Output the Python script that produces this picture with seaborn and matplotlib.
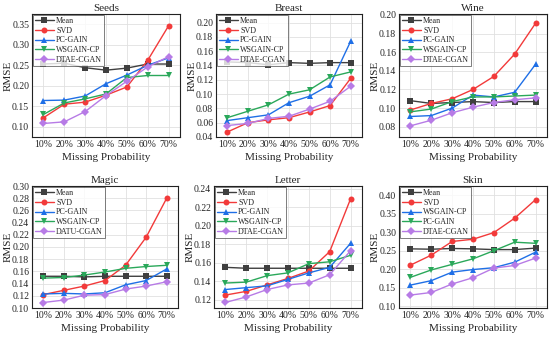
import numpy as np
import pandas as pd
import matplotlib
matplotlib.use("Agg")
import matplotlib.pyplot as plt
import seaborn as sns

sns.set_style("white")
plt.rcParams['font.family'] = ['Liberation Serif', 'DejaVu Serif']

x_labels = ["10%", "20%", "30%", "40%", "50%", "60%", "70%"]

seeds = {
    "Mean": [0.253, 0.255, 0.244, 0.238, 0.243, 0.253, 0.253],
    "SVD": [0.122, 0.155, 0.160, 0.177, 0.197, 0.262, 0.346],
    "PC-GAIN": [0.164, 0.165, 0.175, 0.205, 0.226, 0.250, 0.268],
    "WSGAIN-CP": [0.130, 0.158, 0.168, 0.180, 0.220, 0.225, 0.225],
    "DTAE-CGAN": [0.108, 0.112, 0.137, 0.176, 0.211, 0.246, 0.271],
}
breast = {
    "Mean": [0.145, 0.144, 0.141, 0.144, 0.143, 0.144, 0.144],
    "SVD": [0.047, 0.060, 0.064, 0.067, 0.075, 0.084, 0.122],
    "PC-GAIN": [0.063, 0.067, 0.071, 0.088, 0.097, 0.113, 0.174],
    "WSGAIN-CP": [0.067, 0.076, 0.085, 0.100, 0.106, 0.124, 0.131],
    "DTAE-CGAN": [0.056, 0.059, 0.066, 0.069, 0.079, 0.090, 0.111],
}
wine = {
    "Mean": [0.108, 0.105, 0.106, 0.107, 0.106, 0.107, 0.107],
    "SVD": [0.098, 0.105, 0.110, 0.120, 0.134, 0.158, 0.191],
    "PC-GAIN": [0.091, 0.092, 0.100, 0.114, 0.112, 0.117, 0.147],
    "WSGAIN-CP": [0.096, 0.099, 0.107, 0.112, 0.112, 0.113, 0.114],
    "DTAE-CGAN": [0.081, 0.087, 0.095, 0.101, 0.106, 0.109, 0.111],
}
magic = {
    "Mean": [0.152, 0.152, 0.151, 0.152, 0.152, 0.152, 0.152],
    "SVD": [0.122, 0.129, 0.136, 0.145, 0.170, 0.216, 0.280],
    "PC-GAIN": [0.123, 0.124, 0.123, 0.125, 0.138, 0.145, 0.164],
    "WSGAIN-CP": [0.149, 0.150, 0.154, 0.159, 0.165, 0.168, 0.170],
    "DATU-CGAN": [0.109, 0.113, 0.121, 0.122, 0.131, 0.136, 0.143],
}
letter = {
    "Mean": [0.155, 0.154, 0.154, 0.154, 0.154, 0.154, 0.154],
    "SVD": [0.125, 0.129, 0.136, 0.143, 0.151, 0.172, 0.229],
    "PC-GAIN": [0.131, 0.133, 0.135, 0.142, 0.149, 0.155, 0.181],
    "WSGAIN-CP": [0.138, 0.139, 0.146, 0.149, 0.159, 0.161, 0.168],
    "DTAE-CGAN": [0.117, 0.123, 0.131, 0.136, 0.138, 0.147, 0.173],
}
skin = {
    "Mean": [0.255, 0.254, 0.256, 0.255, 0.253, 0.253, 0.257],
    "SVD": [0.211, 0.238, 0.275, 0.281, 0.299, 0.338, 0.388],
    "WSGAIN-CP": [0.157, 0.169, 0.192, 0.199, 0.204, 0.219, 0.246],
    "PC-GAIN": [0.178, 0.198, 0.213, 0.228, 0.250, 0.273, 0.270],
    "DTAE-CGAN": [0.130, 0.137, 0.160, 0.177, 0.203, 0.210, 0.230],
}

# style per legend slot (position in legend)
slot_colors = ["#3f3f3f", "#f23a3a", "#1f6fe6", "#2aa85a", "#b77be6"]
slot_markers = ["s", "o", "^", "v", "D"]

panels = [
    ("Seeds", seeds, (0.075, 0.375), [0.10, 0.15, 0.20, 0.25, 0.30, 0.35], "{:.2f}"),
    ("Breast", breast, (0.04, 0.212), [0.04, 0.06, 0.08, 0.10, 0.12, 0.14, 0.16, 0.18, 0.20], "{:.2f}"),
    ("Wine", wine, (0.069, 0.201), [0.08, 0.10, 0.12, 0.14, 0.16, 0.18, 0.20], "{:.2f}"),
    ("Magic", magic, (0.10, 0.30), [0.10, 0.12, 0.14, 0.16, 0.18, 0.20, 0.22, 0.24, 0.26, 0.28, 0.30], "{:.2f}"),
    ("Letter", letter, (0.111, 0.243), [0.12, 0.14, 0.16, 0.18, 0.20, 0.22, 0.24], "{:.2f}"),
    ("Skin", skin, (0.095, 0.425), [0.10, 0.15, 0.20, 0.25, 0.30, 0.35, 0.40], "{:.2f}"),
]

W, H = 550, 337
rects_px = [
    (32, 14, 180, 137), (216, 14, 362, 137), (399, 14, 547, 137),
    (32, 186, 178, 308), (214, 186, 362, 308), (399, 186, 547, 308),
]

fig = plt.figure(figsize=(5.5, 3.37), dpi=100)

for (title, data, ylim, yticks, fmt), (l, t, r, b) in zip(panels, rects_px):
    ax = fig.add_axes([l / W, 1 - b / H, (r - l) / W, (b - t) / H])
    names = list(data.keys())
    rows = []
    for n in names:
        for i, v in enumerate(data[n]):
            rows.append({"x": i, "RMSE": v, "Method": n})
    df = pd.DataFrame(rows)
    palette = {n: slot_colors[i] for i, n in enumerate(names)}
    markers = {n: slot_markers[i] for i, n in enumerate(names)}
    sns.lineplot(data=df, x="x", y="RMSE", hue="Method", style="Method",
                 hue_order=names, style_order=names, palette=palette,
                 markers=markers, dashes=False, linewidth=1.0,
                 markersize=4.3, markeredgewidth=0, ax=ax)
    ax.set_xlim(-0.55, 6.55)
    ax.set_ylim(*ylim)
    ax.set_xticks(range(7))
    ax.set_xticklabels(x_labels, fontsize=7)
    ax.set_yticks(yticks)
    ax.set_yticklabels([fmt.format(v) for v in yticks], fontsize=7)
    ax.tick_params(direction="in", length=3, width=0.6, pad=2)
    ax.grid(True, color="#e0e0e0", linewidth=0.6)
    ax.set_axisbelow(True)
    for s in ax.spines.values():
        s.set_color("#222222")
        s.set_linewidth(0.8)
    ax.set_title(title, fontsize=8, pad=2.5)
    ax.set_xlabel("Missing Probability", fontsize=8, labelpad=3)
    ax.set_ylabel("RMSE", fontsize=8, va="center")
    ax.yaxis.set_label_coords(-23.5 / (r - l), 0.5)
    leg = ax.legend(loc="upper left", fontsize=5.8, frameon=True, fancybox=False,
                    borderpad=0.25, labelspacing=0.2, handlelength=2.3,
                    handletextpad=0.3, borderaxespad=0.15)
    leg.get_frame().set_edgecolor("#444444")
    leg.get_frame().set_linewidth(0.6)

fig.savefig("out.png", dpi=100)
